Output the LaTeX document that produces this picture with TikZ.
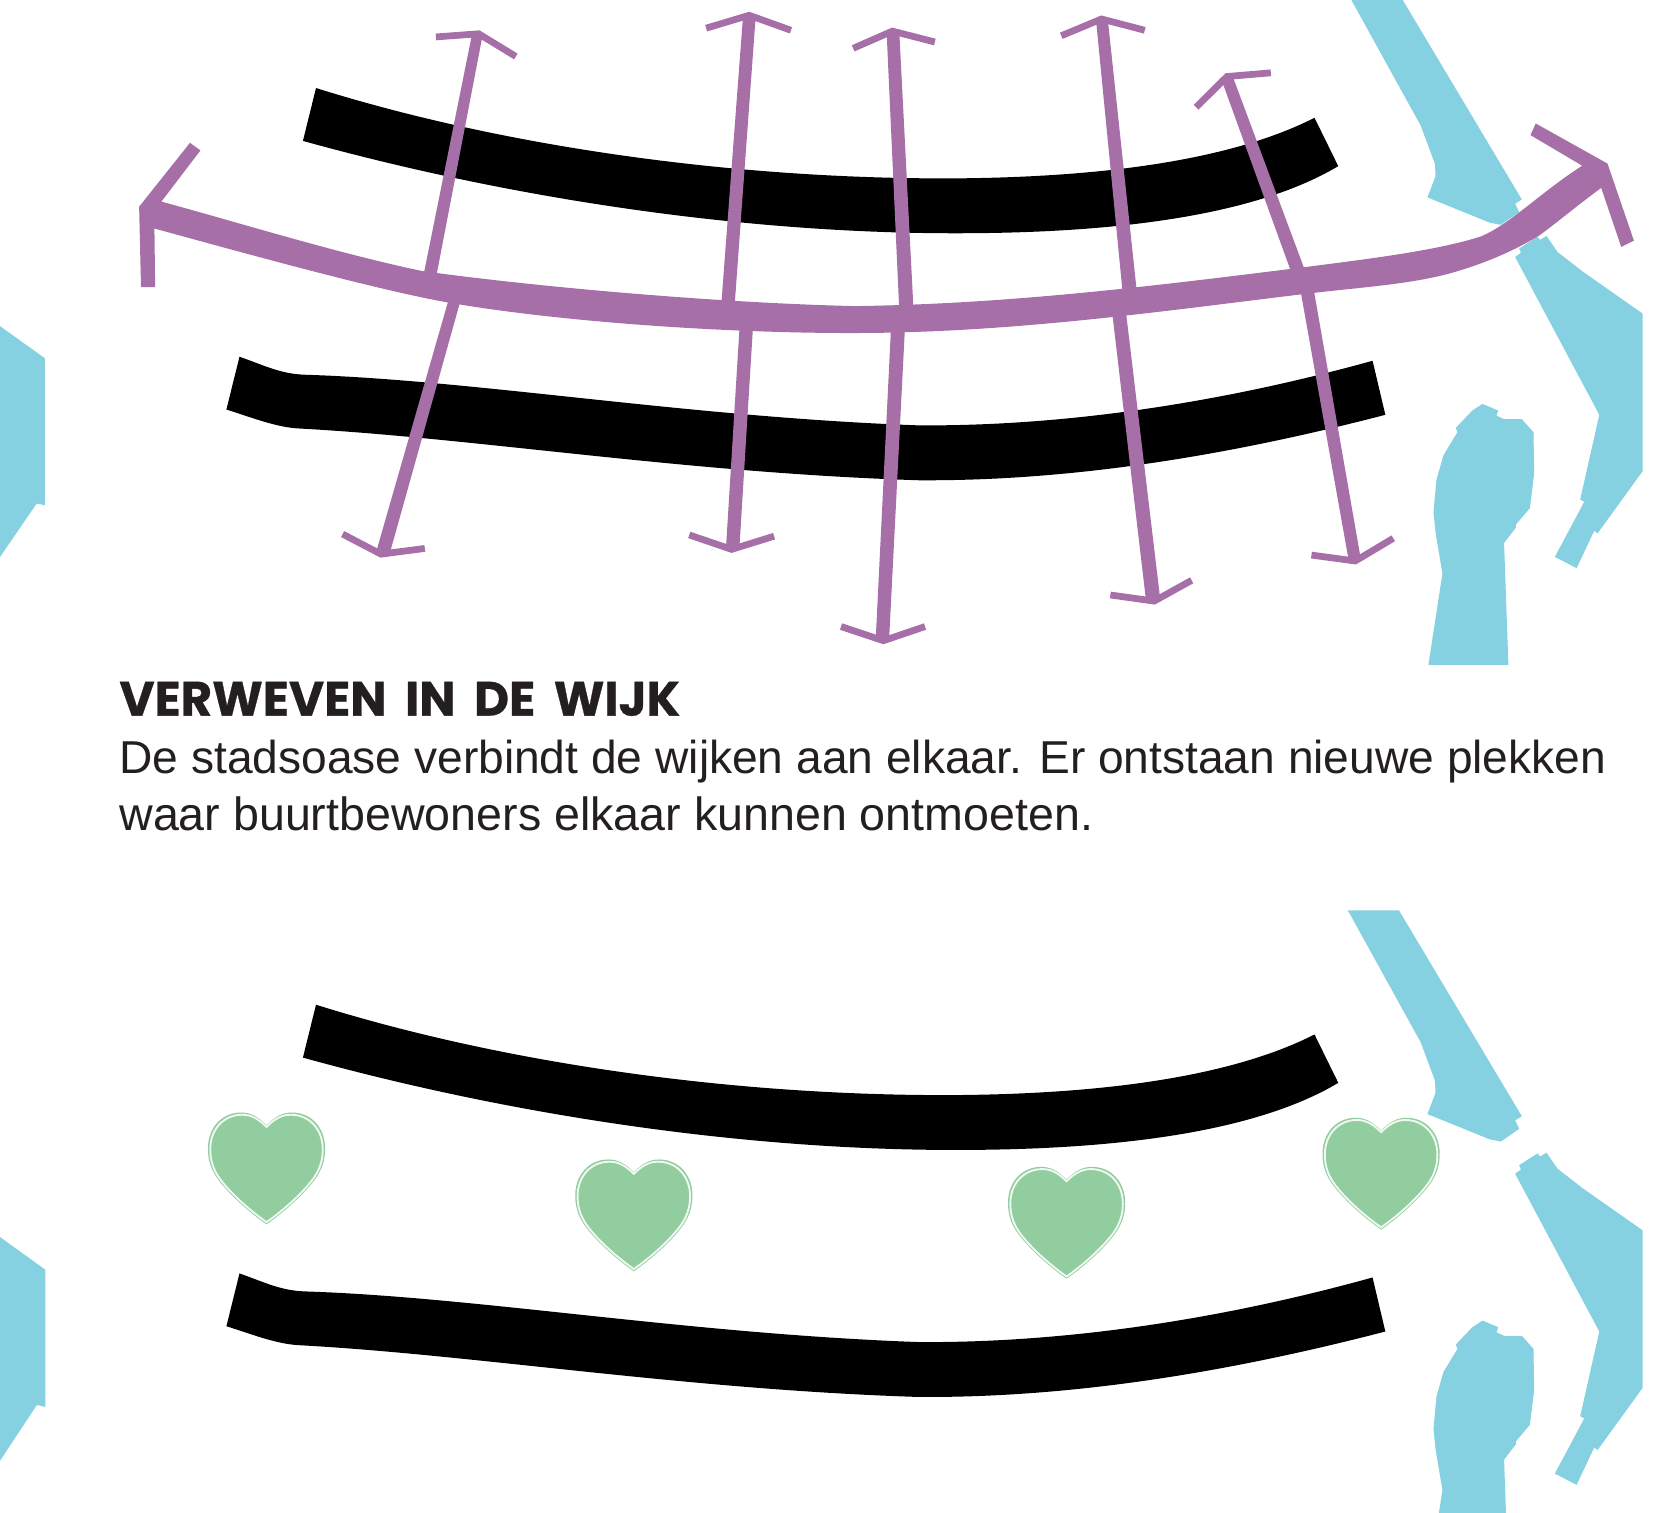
\documentclass[tikz,border=0pt]{standalone}
\usepackage{fontspec}
\setmainfont{Liberation Sans}
\newfontfamily\headfont{Poppins}[BoldFont={Poppins Bold},BoldFeatures={FakeBold=0.6}]
\definecolor{pur}{HTML}{A66FA8}
\definecolor{wat}{HTML}{85D1E1}
\definecolor{grn}{HTML}{92CD9F}
\definecolor{ink}{HTML}{231F20}
\newcommand\bluemain{%
  \fill[wat] (1277,-6) -- (1325.4,-6) -- (1441.8,189) -- (1435.5,193) -- (1439.3,201) -- (1422,213) -- (1411.5,211) -- (1352.4,187) -- (1360,167) -- (1359.6,155.5) -- (1346,119) -- cycle;
  \fill[wat] (1435.5,243.6) -- (1440.9,239.5) -- (1439.3,235.4) -- (1456.7,224.3) -- (1459.2,227.2) -- (1465.2,223.5) -- (1475.6,238.7) -- (1499.4,257.2) -- (1556.2,297.1) -- (1556.2,446.5) -- (1513.6,505.3) -- (1510.4,502.9) -- (1493.7,538.3) -- (1473.1,527.6) -- (1501,475.3) -- (1497.1,473.3) -- (1515.2,393) -- cycle;
  \fill[wat] (1353.3,630) -- (1366.6,543.2) -- (1360.3,506.2) -- (1358.1,485.6) -- (1360.9,454.7) -- (1367.6,431.3) -- (1380.8,409.5) -- (1379.3,405.3) -- (1395,388.9) -- (1404.5,382.7) -- (1419.4,388.9) -- (1417.8,393.8) -- (1425,397.1) -- (1441.8,397.1) -- (1452.9,409.5) -- (1453.5,448.6) -- (1449.4,481.5) -- (1436.1,497.1) -- (1436.1,500) -- (1425,514.4) -- (1429.1,630) -- cycle;
}
\newcommand\blackstrips{%
  \fill[black] (299.4,83.4) .. controls (480,140) and (700,170) .. (905,169) .. controls (1030,168) and (1160,155) .. (1245.4,111.6)
    -- (1267.9,157.4) .. controls (1180,210) and (1030,221) .. (905,221) .. controls (700,221) and (480,187) .. (287,133.5) -- cycle;
  \fill[black] (226.9,338) .. controls (250,346) and (265,354) .. (288,355) .. controls (450,360) and (650,395) .. (870,403) .. controls (1020,404) and (1170,378) .. (1300.4,341.8)
    -- (1312.5,393) .. controls (1170,430) and (1020,456) .. (870,455) .. controls (650,448) and (450,415) .. (284,406) .. controls (262,405) and (240,396) .. (214.5,388) -- cycle;
}
\newcommand\shaft[8]{\fill[pur] (#1,#2) -- (#3,#4) -- (#5,#6) -- (#7,#8) -- cycle;}
\newcommand\chev[6]{\draw[pur,line width=.32cm,miter limit=10] (#1,#2) -- (#3,#4) -- (#5,#6);}
\newcommand\heartpath{(0,12) .. controls (8,4) and (15,0) .. (24,0) .. controls (42,0) and (55.5,14) .. (55.5,34) .. controls (55.5,52) and (48,62) .. (37,74) .. controls (25,87) and (10,99) .. (0,106) .. controls (-10,99) and (-25,87) .. (-37,74) .. controls (-48,62) and (-55.5,52) .. (-55.5,34) .. controls (-55.5,14) and (-42,0) .. (-24,0) .. controls (-15,0) and (-8,4) .. (0,12) -- cycle}
\newcommand\greenheart[2]{%
  \begin{scope}[shift={(#1,#2)}]
    \fill[grn] \heartpath;
    \begin{scope}[shift={(0,53)},scale=.96,shift={(0,-53)}]
      \draw[white!85!grn,line width=.09cm] \heartpath;
    \end{scope}
  \end{scope}}
\begin{document}
\begin{tikzpicture}[x=.05cm,y=-.05cm]
\useasboundingbox (0,0) rectangle (1568,1433);
\clip (0,0) rectangle (1568,1433);
% upper panel
\bluemain
\fill[wat] (0,309) -- (42.6,339.5) -- (42.6,478.7) -- (34.8,477) -- (0,527.7) -- cycle;
\blackstrips
% arrow 1
\shaft{447.3}{32}{457.5}{32}{413.3}{262}{401}{262}
\shaft{425}{284}{436.5}{284}{368.5}{527}{355.5}{526}
\chev{413}{35}{453.5}{32}{488.7}{53.5}
\chev{324.6}{506}{361}{525}{402.5}{519.6}
% arrow 2
\shaft{704}{15}{716}{15}{696.1}{288}{683.4}{288}
\shaft{700.8}{308}{713.5}{308}{700.4}{521}{687.7}{521}
\chev{669}{26.7}{709.8}{14.5}{749.4}{28.7}
\chev{653}{506.8}{693.2}{520.5}{733.4}{508}
% arrow 3
\shaft{840}{30}{852}{30}{865.4}{292}{851.9}{292}
\shaft{844.2}{310}{857.4}{310}{842.3}{607}{829.6}{607}
\chev{808.3}{45.8}{845.5}{29.5}{885.7}{39.8}
\chev{796.8}{593.6}{837}{607}{876.4}{593.6}
% arrow 4
\shaft{1038.3}{18}{1049.5}{18}{1077}{276}{1063.5}{276}
\shaft{1053.7}{296}{1066.8}{296}{1099.5}{570}{1086}{571}
\chev{1005.5}{33.9}{1043.6}{18}{1084.6}{28.7}
\chev{1052}{563.7}{1093.5}{569.5}{1129}{549.8}
% arrow 5
\shaft{1156.5}{73.5}{1167}{70}{1237}{258}{1223.4}{258}
\shaft{1231.9}{274}{1244.6}{274}{1289.5}{531}{1278}{532}
\chev{1133.3}{101.6}{1162.5}{72.5}{1204}{69}
\chev{1242.5}{525.9}{1284}{531.5}{1320}{510}
% main purple band
\fill[pur] (131.8,195.9) -- (180,135.3) -- (189.9,142.5) -- (152.9,191)
  .. controls (230,212) and (320,240) .. (400,256.8)
  .. controls (510,272) and (680,287) .. (810,290)
  .. controls (960,288) and (1100,270) .. (1237,253)
  .. controls (1290,246) and (1360,238) .. (1403,224)
  .. controls (1430,213) and (1460,182) .. (1499,157)
  -- (1450,128) -- (1455,117) -- (1523,155) -- (1548,228) -- (1536,234) -- (1517,178)
  .. controls (1490,198) and (1470,215) .. (1457,224)
  .. controls (1430,240) and (1400,252) .. (1370,260)
  .. controls (1330,270) and (1290,272) .. (1232.7,278.9)
  .. controls (1100,295) and (960,315) .. (814,315.5)
  .. controls (690,316) and (530,305) .. (423.8,286.5)
  .. controls (360,275) and (250,245) .. (146.3,216.5)
  -- (147,272) -- (133.6,272) -- cycle;
% text
\node[anchor=base west,inner sep=0pt,text=ink] (head) at (113,678) {\headfont\bfseries\fontsize{65}{80}\selectfont\spaceskip=25pt VERWEVEN IN DE WIJK};
\node[anchor=base west,inner sep=0pt,text=ink] (line1) at (113,733) {\fontsize{62.2}{70}\selectfont De stadsoase verbindt de wijken aan elkaar. Er ontstaan nieuwe plekken};
\node[anchor=base west,inner sep=0pt,text=ink] (line2) at (113,787) {\fontsize{62.8}{70}\selectfont waar buurtbewoners elkaar kunnen ontmoeten.};
% lower panel
\begin{scope}[shift={(0,868.5)}]
\bluemain
\blackstrips
\end{scope}
\fill[wat] (0,1172) -- (43,1203) -- (43,1333) -- (35,1331) -- (0,1384) -- cycle;
\greenheart{252.5}{1054}
\greenheart{600.5}{1098.5}
\greenheart{1010.5}{1105.5}
\greenheart{1308.5}{1059}
\end{tikzpicture}
\end{document}
